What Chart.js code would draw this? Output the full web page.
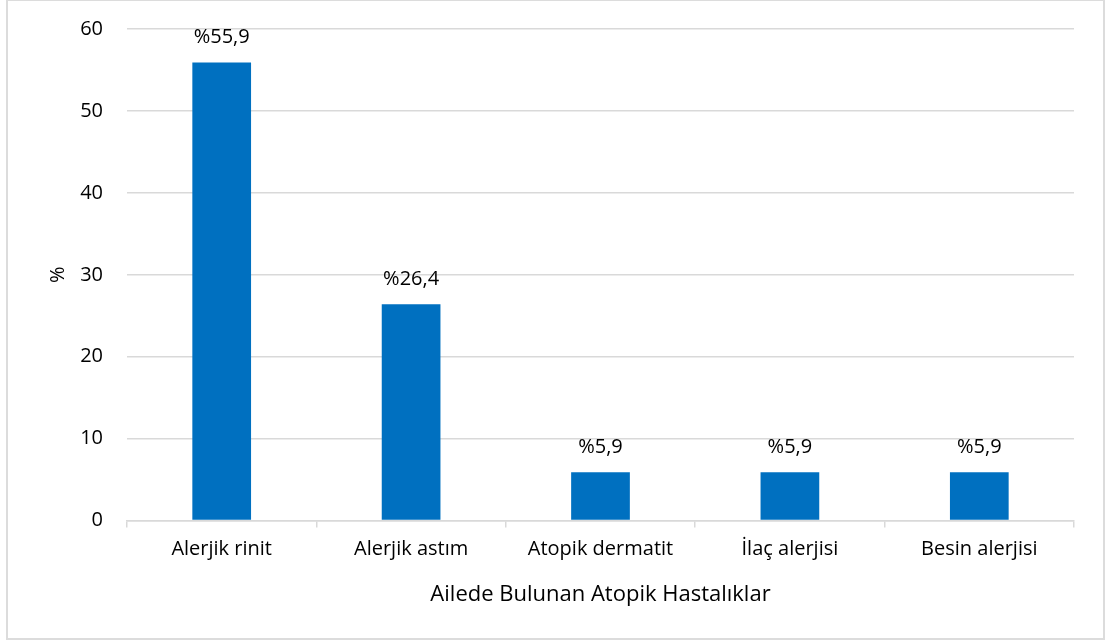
<!DOCTYPE html>
<html><head><meta charset="utf-8">
<script src="https://cdn.jsdelivr.net/npm/chart.js@4.4.1/dist/chart.umd.min.js"></script>
<style>
html,body{margin:0;padding:0;background:#fff;}
#wrap{position:absolute;left:0;top:0;width:1107px;height:641px;}
#frame{position:absolute;left:6px;top:-1px;width:1095px;height:637px;border:2px solid #dcdcdc;box-sizing:content-box;}
canvas{position:absolute;left:0;top:0;}
</style></head>
<body>
<div id="wrap"><div id="frame"></div><canvas id="c" width="1107" height="641"></canvas></div>
<script>
const categories = ["Alerjik rinit","Alerjik astım","Atopik dermatit","İlaç alerjisi","Besin alerjisi"];
const values = [55.9, 26.4, 5.9, 5.9, 5.9];
const valueLabels = ["%55,9","%26,4","%5,9","%5,9","%5,9"];
const yTicks = [0,10,20,30,40,50,60];
const xTitle = "Ailede Bulunan Atopik Hastalıklar";
const yTitle = "%";
const FONT = "'Open Sans', sans-serif";

const labelPlugin = {
  id:'vlabels',
  afterDatasetsDraw(chart){
    const ctx = chart.ctx;
    const meta = chart.getDatasetMeta(0);
    ctx.save();
    ctx.font = "20px " + FONT;
    ctx.fillStyle = "#000";
    ctx.textAlign = "center";
    ctx.textBaseline = "middle";
    meta.data.forEach((bar,i)=>{
      ctx.fillText(valueLabels[i], bar.x, bar.y - 25);
    });
    ctx.restore();
  }
};

new Chart(document.getElementById('c'), {
  type:'bar',
  data:{labels:categories, datasets:[{data:values, backgroundColor:'#0070C0', barPercentage:0.31, categoryPercentage:1}]},
  options:{
    responsive:false, animation:false,
    layout:{padding:{left:40,right:33,top:29,bottom:33}},
    plugins:{legend:{display:false}, tooltip:{enabled:false}},
    scales:{
      x:{
        grid:{offset:true, drawOnChartArea:false, drawTicks:true, tickLength:7, color:'#d9d9d9', lineWidth:1.5},
        border:{display:true, color:'#d9d9d9', width:1.5},
        ticks:{font:{family:FONT,size:20}, color:'#000', padding:10, maxRotation:0},
        title:{display:true, text:xTitle, font:{family:FONT,size:22}, color:'#000', padding:{top:10,bottom:0}}
      },
      y:{
        min:0, max:60,
        afterBuildTicks(s){ s.ticks = yTicks.map(v=>({value:v})); },
        grid:{drawTicks:false, color:'#d9d9d9', lineWidth:1.5},
        border:{display:false},
        ticks:{font:{family:FONT,size:20}, color:'#000', padding:24},
        title:{display:true, text:yTitle, font:{family:FONT,size:20}, color:'#000', padding:{top:6,bottom:0}},
        afterFit(s){ s.width = 87; s.paddingTop = 0; s.paddingBottom = 0; }
      }
    }
  },
  plugins:[labelPlugin]
});
</script>
</body></html>
